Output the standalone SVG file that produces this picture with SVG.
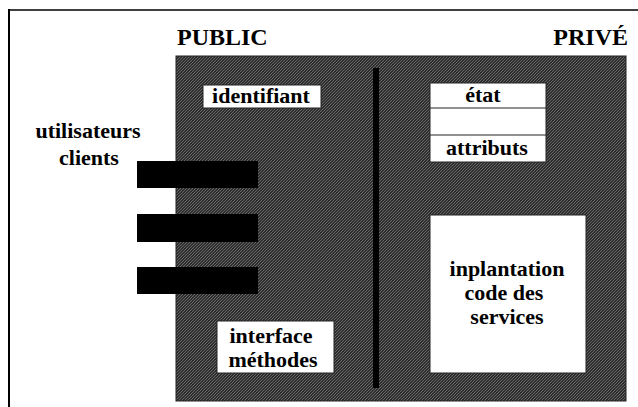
<svg xmlns="http://www.w3.org/2000/svg" width="638" height="407" viewBox="0 0 638 407">
  <style>
    .t { font-family: "Liberation Serif", "Times New Roman", serif; font-weight: bold; fill: #000; }
    .title { font-size: 24px; }
    .lbl { font-size: 22px; text-anchor: middle; }
    .box { fill: #fff; stroke: #222; stroke-width: 1; }
    .port { fill: #000; }
  </style>
  <defs>
    <!-- fine diagonal screen used for the object body -->
    <pattern id="screen" width="3" height="3" patternUnits="userSpaceOnUse">
      <rect width="3" height="3" fill="#2e2e2e"/>
      <path d="M0,3 L3,0" stroke="#767676" stroke-width="0.8"/>
    </pattern>
  </defs>

  <!-- page frame -->
  <g id="frame" fill="none" stroke="#000">
    <line x1="9" y1="10" x2="638" y2="10" stroke-width="1.5"/>
    <line x1="9" y1="9" x2="9" y2="407" stroke-width="2"/>
  </g>

  <!-- section headings -->
  <text class="t title" x="177" y="45">PUBLIC</text>
  <text class="t title" x="628" y="45" text-anchor="end">PRIVÉ</text>

  <!-- object body -->
  <g id="object">
    <rect x="176" y="56" width="450" height="345" fill="url(#screen)" stroke="#222" stroke-width="1"/>
  </g>

  <!-- public / private boundary -->
  <g id="connectors">
    <rect x="373" y="68" width="6" height="320" fill="#000"/>
  </g>

  <g id="utilisateurs">
    <text class="t lbl" x="88" y="138">utilisateurs</text>
    <text class="t lbl" x="89" y="165">clients</text>
  </g>

  <g id="ports">
    <rect class="port" x="137" y="161" width="121" height="27"/>
    <rect class="port" x="137" y="214" width="121" height="28"/>
    <rect class="port" x="137" y="267" width="121" height="27"/>
  </g>

  <g id="identifiant">
    <rect class="box" x="203" y="85" width="118" height="23"/>
    <text class="t lbl" x="261" y="103">identifiant</text>
  </g>

  <g id="etat">
    <rect class="box" x="430" y="83" width="116" height="79"/>
    <line x1="430" y1="108" x2="546" y2="108" stroke="#222" stroke-width="1"/>
    <line x1="430" y1="135" x2="546" y2="135" stroke="#222" stroke-width="1"/>
    <text class="t lbl" x="483" y="102">état</text>
    <text class="t lbl" x="487" y="155">attributs</text>
  </g>

  <g id="interface">
    <rect class="box" x="217" y="321" width="117" height="52"/>
    <text class="t lbl" x="271" y="343">interface</text>
    <text class="t lbl" x="273" y="367">méthodes</text>
  </g>

  <g id="implantation">
    <rect class="box" x="430" y="215" width="156" height="158"/>
    <text class="t lbl" x="507" y="276">inplantation</text>
    <text class="t lbl" x="504" y="300">code des</text>
    <text class="t lbl" x="507" y="324">services</text>
  </g>
</svg>
